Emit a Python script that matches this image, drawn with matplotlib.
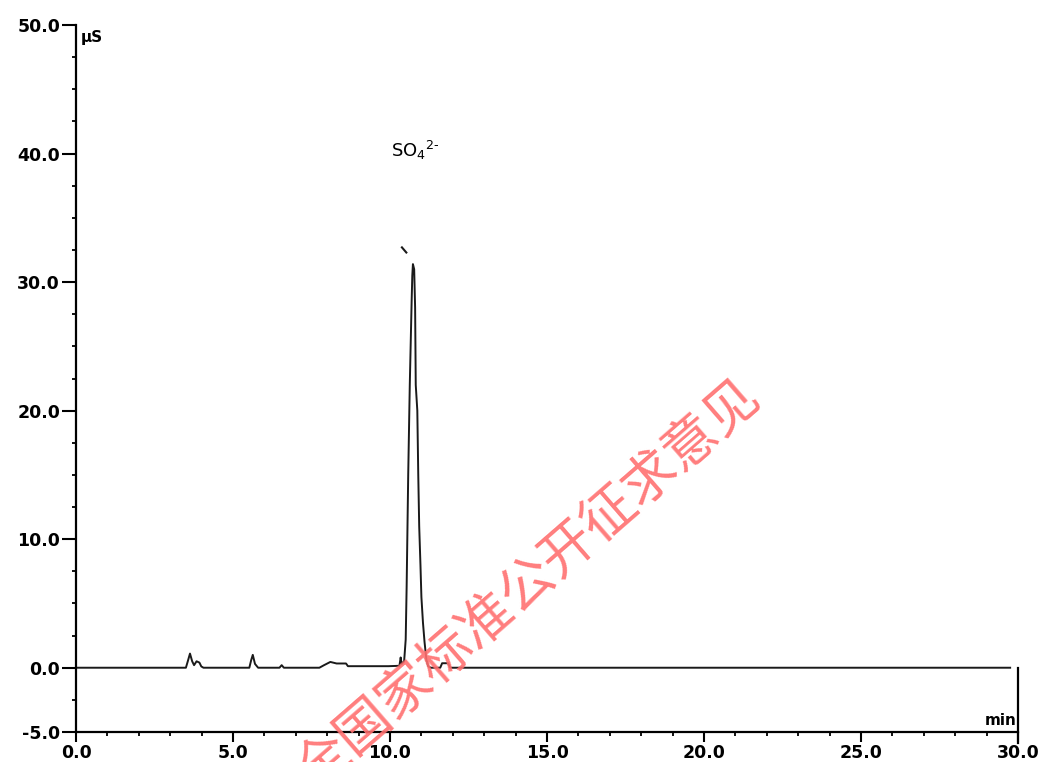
import matplotlib
matplotlib.use('Agg')
from matplotlib import pyplot as plt
from matplotlib.ticker import MultipleLocator, FormatStrFormatter

# chromatogram trace (min, uS)
time = [0.00, 3.50, 3.56, 3.63, 3.70, 3.76, 3.84, 3.93, 3.99, 4.06,
        5.52, 5.58, 5.63, 5.70, 5.80,
        6.48, 6.55, 6.62,
        7.75, 7.90, 8.10, 8.30, 8.60, 8.66,
        9.95, 10.30, 10.34, 10.37, 10.45, 10.50, 10.53, 10.58, 10.63, 10.69, 10.71, 10.73,
        10.77, 10.80, 10.82, 10.87, 10.90, 10.93, 10.97, 11.00, 11.05, 11.10, 11.16, 11.22, 11.30,
        11.60, 11.66, 11.85, 11.92, 29.75]
signal = [0.0, 0.0, 0.5, 1.1, 0.5, 0.2, 0.5, 0.4, 0.1, 0.0,
          0.0, 0.6, 1.0, 0.3, 0.0,
          0.0, 0.2, 0.0,
          0.0, 0.2, 0.45, 0.33, 0.33, 0.12,
          0.12, 0.15, 0.8, 0.3, 0.5, 2.2, 6.3, 15.0, 22.0, 28.6, 30.5, 31.4,
          31.0, 28.0, 22.0, 20.0, 15.0, 11.0, 8.0, 5.5, 3.5, 2.0, 0.6, 0.1, 0.0,
          0.0, 0.35, 0.35, 0.0, 0.0]

peak_label = 'SO$_4$$^{2\u2010}$'
peak_label_pos = (10.03, 39.7)
peak_mark_x = [10.38, 10.52]
peak_mark_y = [32.7, 32.3]
watermark = '全国家标准公开征求意见'

fig = plt.figure(figsize=(10.45, 7.62), dpi=100)
ax = fig.add_axes([76/1045, 1-732/762, (1018-76)/1045, (732-25)/762])

ax.plot(time, signal, color='#1a1a1a', lw=1.4)
ax.plot(peak_mark_x, peak_mark_y, color='#1a1a1a', lw=1.5)
ax.text(peak_label_pos[0], peak_label_pos[1], peak_label, fontsize=13,
        ha='left', va='baseline')

ax.set_xlim(0, 30)
ax.set_ylim(-5, 50)
ax.xaxis.set_major_locator(MultipleLocator(5))
ax.xaxis.set_minor_locator(MultipleLocator(1))
ax.yaxis.set_minor_locator(MultipleLocator(2.5))
ax.set_yticks([-5, 0, 10, 20, 30, 40, 50])
ax.xaxis.set_major_formatter(FormatStrFormatter('%.1f'))
ax.yaxis.set_major_formatter(FormatStrFormatter('%.1f'))

for s in ['top', 'right']:
    ax.spines[s].set_visible(False)
for s in ['left', 'bottom']:
    ax.spines[s].set_linewidth(1.6)
ax.plot([30, 30], [0, -5.85], color='black', lw=1.6, clip_on=False)

ax.tick_params(axis='y', which='major', length=10, width=1.5, pad=1.5)
ax.tick_params(axis='x', which='major', length=7, width=1.5, pad=2)
ax.tick_params(which='minor', length=3, width=1.3)
for lab in ax.get_xticklabels() + ax.get_yticklabels():
    lab.set_fontweight('bold')
    lab.set_fontsize(12.5)

ax.text(0.15, 49.6, 'µS', fontsize=11, fontweight='bold', ha='left', va='top')
ax.text(29.95, -4.7, 'min', fontsize=11, fontweight='bold', ha='right', va='bottom')

fig.text(528/1045, 1-585/762, watermark, fontsize=39, color='#ff6f6f', alpha=0.9,
         rotation=41, rotation_mode='anchor', ha='center', va='center',
         fontweight='light', family=['Noto Sans CJK SC', 'DejaVu Sans'])

fig.savefig('out.png', dpi=100)
